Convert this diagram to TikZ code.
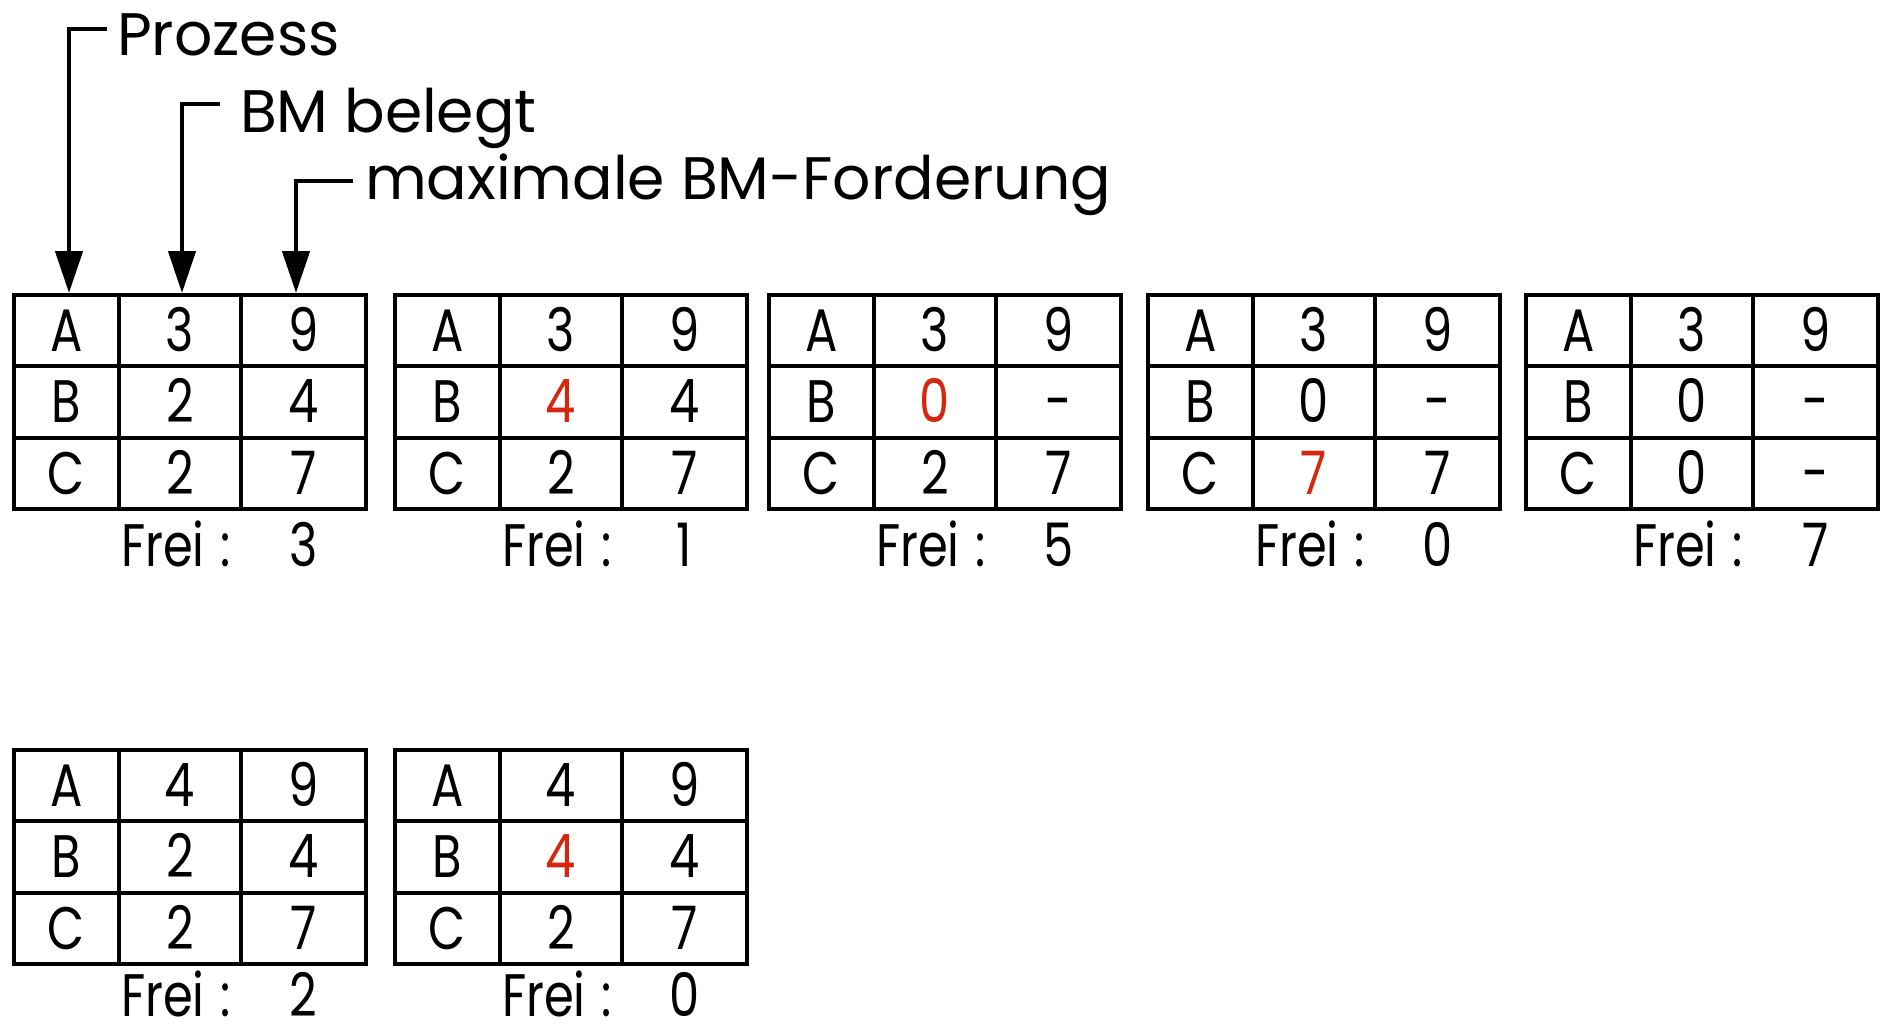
\documentclass[tikz,border=0pt]{standalone}
\usepackage{fontspec}
\setmainfont{Poppins}[FakeStretch=0.8]
\newfontfamily\lblfont{Poppins}
\usetikzlibrary{arrows.meta}
\definecolor{hl}{RGB}{214,38,14}
\tikzset{
  cell/.style={draw, line width=4pt, inner sep=0pt, outer sep=0pt,
    minimum height=71.3pt, anchor=north west, text height=42pt, text depth=0pt,
    font=\fontsize{60}{72}\selectfont},
  ca/.style={cell, minimum width=105pt},
  cb/.style={cell, minimum width=122pt},
  cc/.style={cell, minimum width=125pt},
  lbl/.style={inner sep=0pt, outer sep=0pt, anchor=base west, font=\fontsize{60}{72}\selectfont},
  toplbl/.style={lbl, font=\lblfont\fontsize{60}{72}\selectfont},
  ptr/.style={line width=4.5pt, -{Triangle[length=42pt,width=27pt]}, shorten >=2pt},
}
\newcommand\tabrow[6]{%
  \node[ca] (#1-1) at (#2,#3) {#4};
  \node[cb] (#1-2) at (#1-1.north east) {#5};
  \node[cc] (#1-3) at (#1-2.north east) {#6};}
\newcommand\frei[4]{%
  \node[lbl] (#1-f) at ({#2+107},{#3}) {Frei\hspace{16pt}:};
  \node[lbl,anchor=base] (#1-n) at ({#2+289.5},{#3}) {#4};}
\newcommand\hlt[1]{\textcolor{hl}{#1}}
\begin{document}
\begin{tikzpicture}[x=1pt,y=-1pt]
\useasboundingbox (0,0) rectangle (1881,1023);
% labels
\node[toplbl] (pz) at (117,55) {Prozess};
\node[toplbl] (bm) at (240,132) {BM belegt};
\node[toplbl] (mx) at (365,199) {maximale BM-Forderung};
% table 1
\tabrow{t1a}{14}{295}{A}{3}{9}
\tabrow{t1b}{14}{366.3}{B}{2}{4}
\tabrow{t1c}{14}{437.6}{C}{2}{7}
\frei{t1}{14}{566}{3}
% table 2
\tabrow{t2a}{395}{295}{A}{3}{9}
\tabrow{t2b}{395}{366.3}{B}{\hlt{4}}{4}
\tabrow{t2c}{395}{437.6}{C}{2}{7}
\frei{t2}{395}{566}{1}
% table 3
\tabrow{t3a}{769}{295}{A}{3}{9}
\tabrow{t3b}{769}{366.3}{B}{\hlt{0}}{-}
\tabrow{t3c}{769}{437.6}{C}{2}{7}
\frei{t3}{769}{566}{5}
% table 4
\tabrow{t4a}{1148}{295}{A}{3}{9}
\tabrow{t4b}{1148}{366.3}{B}{0}{-}
\tabrow{t4c}{1148}{437.6}{C}{\hlt{7}}{7}
\frei{t4}{1148}{566}{0}
% table 5
\tabrow{t5a}{1526}{295}{A}{3}{9}
\tabrow{t5b}{1526}{366.3}{B}{0}{-}
\tabrow{t5c}{1526}{437.6}{C}{0}{-}
\frei{t5}{1526}{566}{7}
% table 6
\tabrow{t6a}{14}{750}{A}{4}{9}
\tabrow{t6b}{14}{821.3}{B}{2}{4}
\tabrow{t6c}{14}{892.6}{C}{2}{7}
\frei{t6}{14}{1016}{2}
% table 7
\tabrow{t7a}{395}{750}{A}{4}{9}
\tabrow{t7b}{395}{821.3}{B}{\hlt{4}}{4}
\tabrow{t7c}{395}{892.6}{C}{2}{7}
\frei{t7}{395}{1016}{0}
% pointers
\coordinate (s1) at (107,29);
\coordinate (s2) at (220,104);
\coordinate (s3) at (353,181);
\draw[ptr] (s1) -| ([xshift=2.5pt]t1a-1.north);
\draw[ptr] (s2) -| ([xshift=2pt]t1a-2.north);
\draw[ptr] (s3) -| ([xshift=-7.5pt]t1a-3.north);
\end{tikzpicture}
\end{document}
